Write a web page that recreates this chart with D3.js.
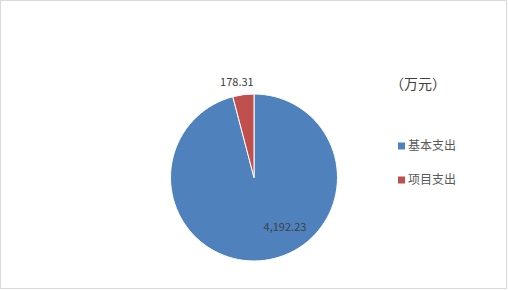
<!DOCTYPE html>
<html>
<head>
<meta charset="utf-8">
<script src="https://cdn.jsdelivr.net/npm/d3@7"></script>
<style>
body { margin:0; background:#fff; }
text { font-family: "Noto Sans CJK SC", "Liberation Sans", sans-serif; }
</style>
</head>
<body>
<svg id="chart"></svg>
<script>
var categories = ["基本支出", "项目支出"]
var amounts = [4192.23, 178.31]
var valueLabels = ["4,192.23", "178.31"]
var colors = ["#4F81BD", "#C0504D"]
var unitLabel = "（万元）"

var screen = {width: 508, height: 290}
var center = {x: 254, y: 177.5}
var radius = 83.5

var svg = d3.select("#chart")
    .attr("width", screen.width)
    .attr("height", screen.height)

// frame
svg.append("rect")
    .attr("x", 0.5).attr("y", 0.5)
    .attr("width", 506).attr("height", 288)
    .attr("fill", "white")
    .attr("stroke", "#D9D9D9")

var pie = d3.pie().sort(null).value(function(d) { return d })
var arcs = pie(amounts)

var arc = d3.arc().innerRadius(0).outerRadius(radius)

var target = svg.append("g")
    .attr("transform", "translate(" + center.x + "," + center.y + ")")

target.selectAll("path")
    .data(arcs)
    .enter()
    .append("path")
    .attr("d", arc)
    .attr("fill", function(d, i) { return colors[i] })
    .attr("stroke", "white")
    .attr("stroke-width", 1)

// data labels: big slice inside, small slice outside
var labelPos = function(d, i) {
    if (i == 0) {
        var a = 148 * Math.PI / 180, r = radius * 0.7
        return [Math.sin(a) * r, -Math.cos(a) * r]
    }
    var mid = (d.startAngle + d.endAngle) / 2 - 0.05
    var r2 = radius + 13
    return [Math.sin(mid) * r2, -Math.cos(mid) * r2]
}

target.selectAll("text.val")
    .data(arcs)
    .enter()
    .append("text")
    .attr("class", "val")
    .attr("x", function(d, i) { return labelPos(d, i)[0] })
    .attr("y", function(d, i) { return labelPos(d, i)[1] })
    .attr("dy", "0.35em")
    .attr("text-anchor", "middle")
    .attr("font-size", 11)
    .attr("fill", "#404040")
    .text(function(d, i) { return valueLabels[i] })

// unit label
svg.append("text")
    .attr("x", 390)
    .attr("y", 84)
    .attr("dy", "0.35em")
    .attr("font-size", 14)
    .attr("fill", "#404040")
    .text(unitLabel)

// legend
var legend = svg.append("g")
    .attr("transform", "translate(398,146)")

var items = legend.selectAll("g")
    .data(categories)
    .enter()
    .append("g")
    .attr("transform", function(d, i) { return "translate(0," + (i * 34) + ")" })

items.append("rect")
    .attr("x", 0).attr("y", -3.5)
    .attr("width", 7).attr("height", 7)
    .attr("fill", function(d, i) { return colors[i] })

items.append("text")
    .attr("x", 10)
    .attr("y", 0)
    .attr("dy", "0.35em")
    .attr("font-size", 12)
    .attr("fill", "#595959")
    .text(function(d) { return d })
</script>
</body>
</html>
